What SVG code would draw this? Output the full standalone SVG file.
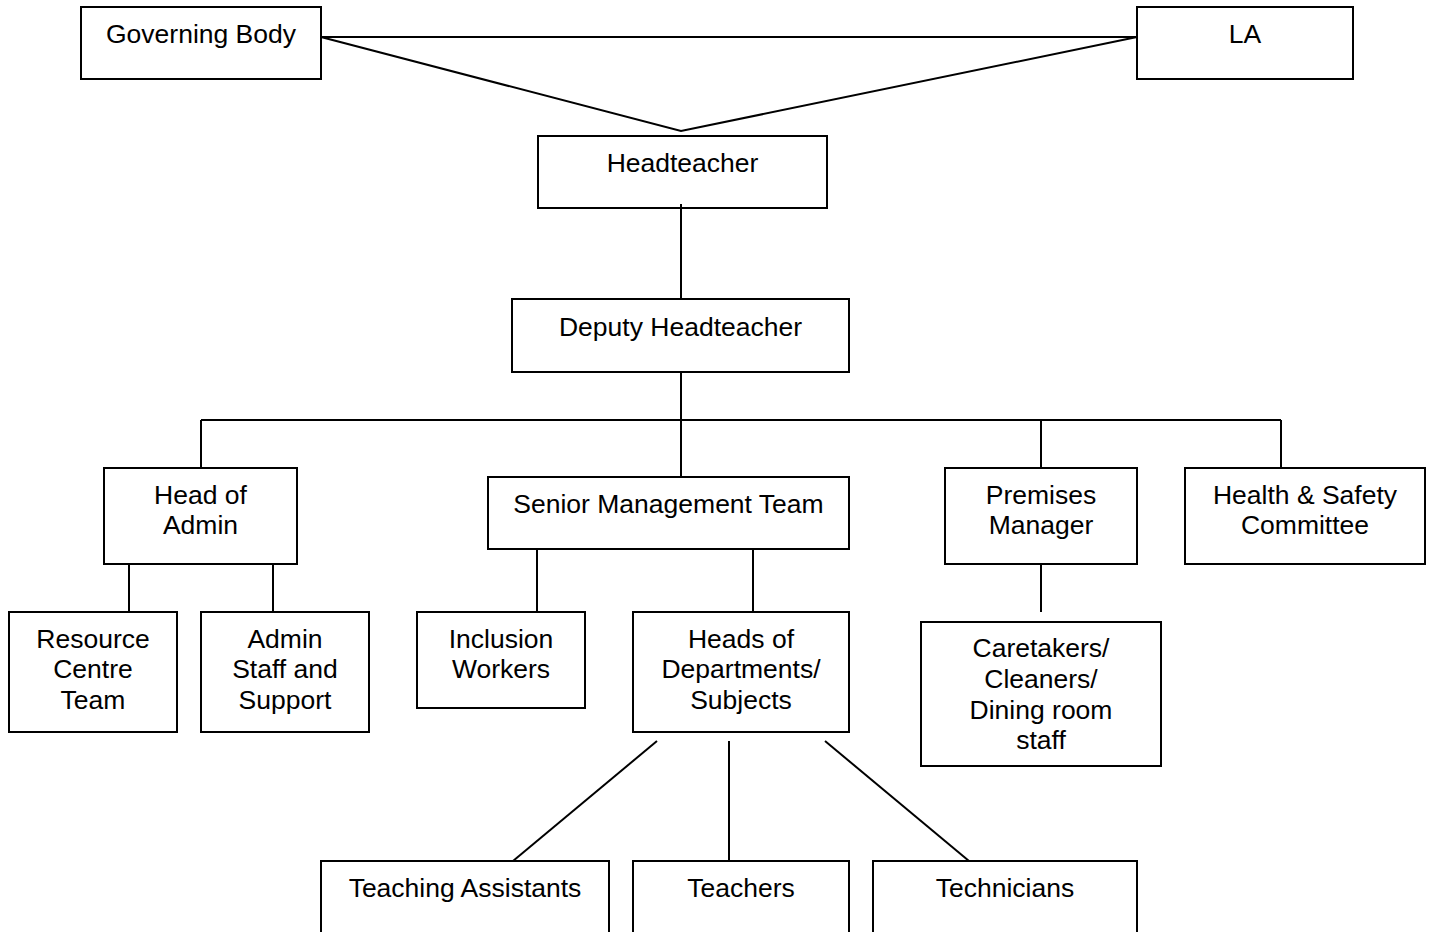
<svg xmlns="http://www.w3.org/2000/svg" width="1434" height="932" viewBox="0 0 1434 932">
<style>
.box{fill:none;stroke:#000;stroke-width:2}
.ln{fill:none;stroke:#000;stroke-width:2}
text{font-family:"Liberation Sans",Arial,sans-serif;font-size:26.5px;fill:#000;text-anchor:middle}
</style>
<rect width="1434" height="932" fill="#fff"/>
<g id="connectors">
<line class="ln" x1="321" y1="37" x2="1137" y2="37"/>
<polyline class="ln" points="321,37 681,131 1137,37"/>
<line class="ln" x1="681" y1="204" x2="681" y2="299"/>
<line class="ln" x1="681" y1="372" x2="681" y2="477"/>
<line class="ln" x1="201" y1="420" x2="1281" y2="420"/>
<line class="ln" x1="201" y1="420" x2="201" y2="468"/>
<line class="ln" x1="1041" y1="420" x2="1041" y2="468"/>
<line class="ln" x1="1281" y1="420" x2="1281" y2="468"/>
<line class="ln" x1="129" y1="564" x2="129" y2="612"/>
<line class="ln" x1="273" y1="564" x2="273" y2="612"/>
<line class="ln" x1="537" y1="549" x2="537" y2="612"/>
<line class="ln" x1="753" y1="549" x2="753" y2="612"/>
<line class="ln" x1="1041" y1="564" x2="1041" y2="612"/>
<line class="ln" x1="657" y1="741" x2="513" y2="861"/>
<line class="ln" x1="729" y1="741" x2="729" y2="861"/>
<line class="ln" x1="825" y1="741" x2="969" y2="861"/>
</g>
<g id="governing-body"><rect class="box" x="81" y="7" width="240" height="72"/><text x="201" y="42.5">Governing Body</text></g>
<g id="la"><rect class="box" x="1137" y="7" width="216" height="72"/><text x="1245" y="42.5">LA</text></g>
<g id="headteacher"><rect class="box" x="538" y="136" width="289" height="72"/><text x="682.5" y="171.5">Headteacher</text></g>
<g id="deputy-headteacher"><rect class="box" x="512" y="299" width="337" height="73"/><text x="680.5" y="335.5">Deputy Headteacher</text></g>
<g id="head-of-admin"><rect class="box" x="104" y="468" width="193" height="96"/><text x="200.5" y="503.5">Head of</text><text x="200.5" y="534">Admin</text></g>
<g id="senior-management-team"><rect class="box" x="488" y="477" width="361" height="72"/><text x="668.5" y="513">Senior Management Team</text></g>
<g id="premises-manager"><rect class="box" x="945" y="468" width="192" height="96"/><text x="1041" y="503.5">Premises</text><text x="1041" y="534">Manager</text></g>
<g id="health-safety-committee"><rect class="box" x="1185" y="468" width="240" height="96"/><text x="1305" y="503.5">Health &amp; Safety</text><text x="1305" y="534">Committee</text></g>
<g id="resource-centre-team"><rect class="box" x="9" y="612" width="168" height="120"/><text x="93" y="647.5">Resource</text><text x="93" y="678">Centre</text><text x="93" y="708.5">Team</text></g>
<g id="admin-staff-support"><rect class="box" x="201" y="612" width="168" height="120"/><text x="285" y="647.5">Admin</text><text x="285" y="678">Staff and</text><text x="285" y="708.5">Support</text></g>
<g id="inclusion-workers"><rect class="box" x="417" y="612" width="168" height="96"/><text x="501" y="647.5">Inclusion</text><text x="501" y="678">Workers</text></g>
<g id="heads-of-departments"><rect class="box" x="633" y="612" width="216" height="120"/><text x="741" y="647.5">Heads of</text><text x="741" y="678">Departments/</text><text x="741" y="708.5">Subjects</text></g>
<g id="caretakers"><rect class="box" x="921" y="622" width="240" height="144"/><text x="1041" y="657">Caretakers/</text><text x="1041" y="688">Cleaners/</text><text x="1041" y="718.5">Dining room</text><text x="1041" y="749">staff</text></g>
<g id="teaching-assistants"><rect class="box" x="321" y="861" width="288" height="80"/><text x="465" y="896.5">Teaching Assistants</text></g>
<g id="teachers"><rect class="box" x="633" y="861" width="216" height="80"/><text x="741" y="896.5">Teachers</text></g>
<g id="technicians"><rect class="box" x="873" y="861" width="264" height="80"/><text x="1005" y="896.5">Technicians</text></g>
</svg>
